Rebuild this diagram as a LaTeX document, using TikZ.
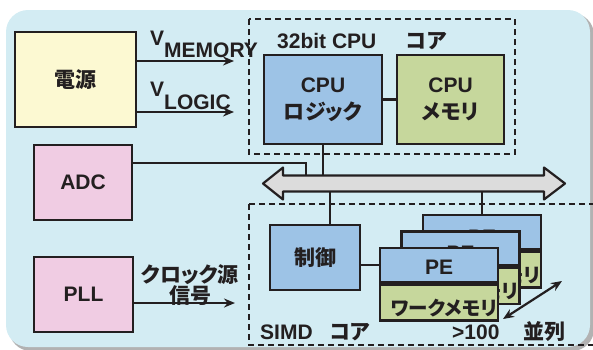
\documentclass[tikz,border=0pt]{standalone}
\usepackage{fontspec}
\setmainfont{Liberation Sans}
\newfontfamily\jp{Noto Sans CJK JP Bold}[RawFeature=+palt]
\usetikzlibrary{arrows.meta}

\definecolor{bgcol}{HTML}{D3ECF3}
\definecolor{pwrcol}{HTML}{FCF9D2}
\definecolor{iocol}{HTML}{F0CCE3}
\definecolor{logcol}{HTML}{9DC3E6}
\definecolor{memcol}{HTML}{C6D79C}
\definecolor{buscol}{HTML}{DCDCDC}
\definecolor{inkcol}{HTML}{231F20}

\begin{document}
\begin{tikzpicture}[x=1pt, y=-1pt,
  font=\fontsize{21}{24}\selectfont\bfseries,
  box/.style={draw=inkcol, line width=2.6pt, inner sep=0pt, align=center, text=inkcol},
  wire/.style={draw=inkcol, line width=2.2pt},
  arr/.style={wire, -{Stealth[length=11pt,width=9pt]}},
  twoway/.style={wire, {Stealth[length=11pt,width=9pt]}-{Stealth[length=11pt,width=9pt]}},
  frame/.style={draw=inkcol, line width=1.8pt, dash pattern=on 6pt off 4pt},
  lbl/.style={inner sep=0pt, text=inkcol}
]
\useasboundingbox (0,0) rectangle (593,349);
\clip (0,0) rectangle (593,349);

% panel with its shadow
\fill[black!30, rounded corners=22pt] (9,13) rectangle (594,351);
\fill[bgcol, rounded corners=22pt] (6,10) rectangle (590,347);

% core outlines
\draw[frame] (249,19) rectangle (515,154);
\draw[frame] (249,204) -- (249,345) -- (600,345);
\draw[frame] (249,204) -- (600,204);

% power supply and peripherals
\node[box, fill=pwrcol, minimum width=121pt, minimum height=95pt] (pwr) at (75.5,79.5) {\jp 電源};
\node[box, fill=iocol, minimum width=98pt, minimum height=75pt] (adc) at (83,182.5) {ADC};
\node[box, fill=iocol, minimum width=99pt, minimum height=75pt] (pll) at (83.5,294.5) {PLL};

% CPU core
\node[box, fill=logcol, minimum width=118pt, minimum height=89pt,
      font=\fontsize{21}{27}\selectfont\bfseries] (cpul) at (323,99.5) {CPU\\{\jp ロジック}};
\node[box, fill=memcol, minimum width=107pt, minimum height=89pt,
      font=\fontsize{21}{27}\selectfont\bfseries] (cpum) at (450.5,99.5) {CPU\\{\jp メモリ}};

% SIMD core: controller and stacked processing elements (back to front)
\node[box, fill=logcol, minimum width=90pt, minimum height=65pt] (ctl) at (315,257.5) {\jp 制御};
\foreach \n/\cx/\cy/\dy in {3/482/232/-5, 2/460.5/248.5/-5, 1/439/265/-2}{
  \node[box, fill=logcol, minimum width=118pt, minimum height=34pt,
        label={[lbl, yshift=\dy pt]center:PE}] (pe\n) at (\cx,\cy) {};
  \node[box, fill=memcol, minimum width=118pt, minimum height=36pt, anchor=north,
        label={[lbl, xshift=5pt, yshift=-5pt, font=\fontsize{19.5}{22}\selectfont\bfseries]center:{\jp ワークメモリ}}]
        (wm\n) at (pe\n.south) {};
}

% labels
\node[lbl, anchor=base west] (vmem) at (150,45) {V\raisebox{-12pt}{MEMORY}};
\node[lbl, anchor=base west] (vlog) at (150,96) {V\raisebox{-13pt}{LOGIC}};
\node[lbl, anchor=base west] (cpucap) at (277,48) {32bit CPU\hspace{30pt}{\jp コア}};
\node[lbl, anchor=base west] (simdcap) at (260,339) {SIMD\hspace{17pt}{\jp コア}};
\node[lbl, align=center, font=\fontsize{21}{20}\selectfont\bfseries] (clk) at (190,285) {\jp クロック源\\\jp 信号};
\node[lbl, anchor=base west] (cnt) at (452,339) {>100};
\node[lbl] (par) at (544,332) {\jp 並列};

% connector end points
\coordinate (memin) at (234,61);
\coordinate (login) at (234,112);
\coordinate (clkin) at (235,303);
\coordinate (adcj) at (306,163);
\coordinate (busT) at (0,175.5);
\coordinate (busB) at (0,191.5);
\coordinate (ctlj) at (330,0);
\coordinate (parA) at (503,319);
\coordinate (parB) at (562,281);

% connectors
\draw[arr] (pwr.east |- memin) -- (memin);
\draw[arr] (pwr.east |- login) -- (login);
\draw[arr] (pll.east |- clkin) -- (clkin);
\draw[wire] (adc.east |- adcj) -- (adcj) -- (adcj |- busT);
\draw[wire] (cpul.east) -- (cpum.west);
\draw[wire] (cpul.south) -- (cpul.south |- busT);
\draw[wire] (ctlj |- busB) -- (ctlj |- ctl.north);
\draw[wire] (pe3.north |- busB) -- (pe3.north);
\draw[wire] (pe1.west) -- (pe1.west -| ctl.east);
\draw[twoway] (parA) -- (parB);

% shared bus
\draw[draw=inkcol, line width=2.2pt, fill=buscol, line join=round]
  (263,183.5) -- (283,167.5) -- (283,175.5) -- (544,175.5) -- (544,167.5) -- (565,183.5)
  -- (544,199.5) -- (544,191.5) -- (283,191.5) -- (283,199.5) -- cycle;
\end{tikzpicture}
\end{document}
